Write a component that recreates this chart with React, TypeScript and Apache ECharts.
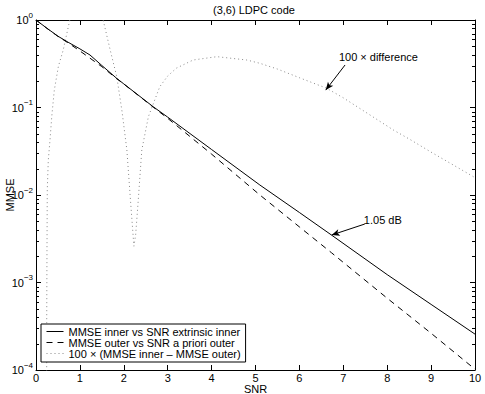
import React, { useEffect, useRef } from "react";
import * as echarts from "echarts";

// ---- data ----
const snrGrid = [0, 0.25, 0.5, 0.75, 1.0, 1.23, 1.5, 1.84, 2.0, 2.67, 3, 4, 5.1, 6, 6.73, 8, 9, 10];
const mmseInner = [1, 0.804, 0.653, 0.55, 0.468, 0.398, 0.302, 0.215, 0.186, 0.102, 0.0776, 0.0331, 0.013, 0.00631, 0.00349, 0.00123, 0.000562, 0.000257];
const mmseOuter = [1, 0.802, 0.65, 0.54, 0.443, 0.366, 0.293, 0.213, 0.1855, 0.101, 0.0752, 0.0293, 0.01, 0.00432, 0.00219, 0.000661, 0.000263, 0.000102];

const snrDiff = [0.2425, 0.244, 0.25, 0.257, 0.28, 0.319, 0.36, 0.417, 0.51, 0.62, 0.77, 0.9, 1.05, 1.2, 1.35, 1.45, 1.53, 1.69, 1.84, 1.96, 2.07, 2.15, 2.23, 2.27, 2.33, 2.41, 2.56, 2.82, 3.0, 3.2, 3.58, 4.12, 4.8, 5.1, 5.5, 6.0, 6.62, 7.0, 7.5, 8.14, 8.5, 9.0, 9.5, 10];
const diffTimes100 = [0.00002, 0.00035, 0.0023, 0.0115, 0.025, 0.0426, 0.08, 0.158, 0.295, 0.454, 1.0, 1.8, 2.6, 3.1, 2.6, 1.7, 1.0, 0.454, 0.225, 0.09, 0.0327, 0.009, 0.0026, 0.0035, 0.0088, 0.0327, 0.0785, 0.173, 0.229, 0.282, 0.349, 0.381, 0.349, 0.32, 0.275, 0.219, 0.166, 0.129, 0.089, 0.0553, 0.0437, 0.0309, 0.0221, 0.0158];

const seriesNames = [
  "MMSE inner vs SNR extrinsic inner",
  "MMSE outer vs SNR a priori outer",
  "100 × (MMSE inner – MMSE outer)",
];

const titleText = "(3,6) LDPC code";
const xTitle = "SNR";
const yTitle = "MMSE";

// annotations (data coordinates)
const annoTexts = ["100 × difference", "1.05 dB"];
const annoTextAt = [[7.8, 0.381], [7.9, 0.00518]];
const arrowFrom = [[7.04, 0.306], [7.49, 0.00466]];
const arrowTo = [[6.6, 0.158], [6.735, 0.00349]];

const minorMultipliers = [2, 3, 4, 5, 6, 7, 8, 9];
const decades = [0.0001, 0.001, 0.01, 0.1];

const FONT = '"Liberation Sans", Arial, Helvetica, sans-serif';

export default function App() {
  const ref = useRef<HTMLDivElement>(null);

  useEffect(() => {
    if (!ref.current) return;
    const chart = echarts.init(ref.current, undefined, { renderer: "svg" });

    const minorTicks: number[][] = [];
    decades.forEach((d) => minorMultipliers.forEach((m) => minorTicks.push([0, d * m])));

    const axisLine = { show: true, onZero: false, lineStyle: { color: "#000", width: 1 } };
    const yLabelFormatter = (v: number) => {
      const e = Math.round(Math.log10(v));
      return `{a|10}{b|${e === 0 ? "0" : "−" + -e}}`;
    };

    const option: any = {
      animation: false,
      backgroundColor: "#fff",
      textStyle: { fontFamily: FONT, color: "#000" },
      title: {
        text: titleText,
        left: 213,
        top: 4,
        padding: 0,
        textStyle: { fontFamily: FONT, fontSize: 11, fontWeight: "normal", color: "#000" },
      },
      grid: { left: 36, top: 20, width: 439, height: 350, containLabel: false, outerBoundsMode: "none" },
      legend: {
        data: seriesNames,
        orient: "vertical",
        left: 41,
        top: 324,
        itemWidth: 17,
        itemHeight: 11,
        itemGap: 0,
        padding: [2, 5, 3, 5],
        borderColor: "#000",
        borderWidth: 1,
        backgroundColor: "#fff",
        selectedMode: false,
        z: 10,
        itemStyle: { opacity: 0 },
        lineStyle: { width: 1 },
        textStyle: { fontFamily: FONT, fontSize: 11, color: "#000" },
      },
      xAxis: [
        {
          type: "value",
          min: 0,
          max: 10,
          interval: 1,
          position: "bottom",
          name: xTitle,
          nameLocation: "middle",
          nameGap: 13,
          nameMoveOverlap: false,
          nameTextStyle: { fontFamily: FONT, fontSize: 11, color: "#000" },
          axisLine,
          axisTick: { show: true, inside: true, length: 5, lineStyle: { color: "#000" } },
          axisLabel: { fontFamily: FONT, fontSize: 11, color: "#000", margin: 2 },
          splitLine: { show: false },
        },
        {
          type: "value",
          min: 0,
          max: 10,
          interval: 1,
          position: "top",
          axisLine,
          axisTick: { show: true, inside: true, length: 5, lineStyle: { color: "#000" } },
          axisLabel: { show: false },
          splitLine: { show: false },
        },
      ],
      yAxis: [
        {
          type: "log",
          logBase: 10,
          min: 0.0001,
          max: 1,
          position: "left",
          name: yTitle,
          nameLocation: "middle",
          nameRotate: 90,
          nameGap: 21,
          nameMoveOverlap: false,
          nameTextStyle: { fontFamily: FONT, fontSize: 11, color: "#000" },
          axisLine,
          axisTick: { show: true, inside: true, length: 5, lineStyle: { color: "#000" } },
          axisLabel: {
            margin: 3,
            formatter: yLabelFormatter,
            rich: {
              a: { fontFamily: FONT, fontSize: 11, color: "#000", lineHeight: 18 },
              b: { fontFamily: FONT, fontSize: 8, color: "#000", verticalAlign: "top", lineHeight: 8 },
            },
          },
          splitLine: { show: false },
        },
        {
          type: "log",
          logBase: 10,
          min: 0.0001,
          max: 1,
          position: "right",
          axisLine,
          axisTick: { show: true, inside: true, length: 5, lineStyle: { color: "#000" } },
          axisLabel: { show: false },
          splitLine: { show: false },
        },
      ],
      series: [
        {
          name: seriesNames[0],
          type: "line",
          data: snrGrid.map((x, i) => [x, mmseInner[i]]),
          symbol: "none",
          clip: true,
          lineStyle: { color: "#000", width: 1, type: "solid" },
          itemStyle: { color: "#000" },
          z: 3,
          markLine: {
            silent: true,
            symbol: ["none", "arrow"],
            symbolSize: [5, 8],
            lineStyle: { color: "#000", width: 1, type: "solid" },
            label: { show: false },
            data: arrowFrom.map((f, i) => [{ coord: f }, { coord: arrowTo[i] }]),
          },
          markPoint: {
            silent: true,
            symbol: "rect",
            symbolSize: 1,
            itemStyle: { color: "rgba(0,0,0,0)" },
            label: {
              show: true,
              position: "inside",
              fontFamily: FONT,
              fontSize: 11,
              color: "#000",
              formatter: (p: any) => p.name,
            },
            data: annoTexts.map((t, i) => ({ name: t, coord: annoTextAt[i] })),
          },
        },
        {
          name: seriesNames[1],
          type: "line",
          data: snrGrid.map((x, i) => [x, mmseOuter[i]]),
          symbol: "none",
          clip: true,
          lineStyle: { color: "#000", width: 1, type: [6, 5] },
          itemStyle: { color: "#000" },
          z: 3,
        },
        {
          name: seriesNames[2],
          type: "line",
          data: snrDiff.map((x, i) => [x, diffTimes100[i]]),
          symbol: "none",
          clip: true,
          lineStyle: { color: "#888", width: 1, type: [1, 3] },
          itemStyle: { color: "#888" },
          z: 2,
        },
        {
          type: "custom",
          silent: true,
          data: minorTicks,
          renderItem: (params: any, api: any) => {
            const v = api.value(1);
            const p0 = api.coord([0, v]);
            const p1 = api.coord([10, v]);
            const y = Math.round(p0[1]) + 0.5;
            return {
              type: "group",
              children: [
                { type: "line", shape: { x1: p0[0], y1: y, x2: p0[0] + 3, y2: y }, style: { stroke: "#000", lineWidth: 1 } },
                { type: "line", shape: { x1: p1[0] - 3, y1: y, x2: p1[0], y2: y }, style: { stroke: "#000", lineWidth: 1 } },
              ],
            };
          },
        },
      ],
    };

    chart.setOption(option);
    return () => chart.dispose();
  }, []);

  return (
    <div
      ref={ref}
      style={{ position: "absolute", left: 0, top: 0, width: 485, height: 394, background: "#fff" }}
    />
  );
}
